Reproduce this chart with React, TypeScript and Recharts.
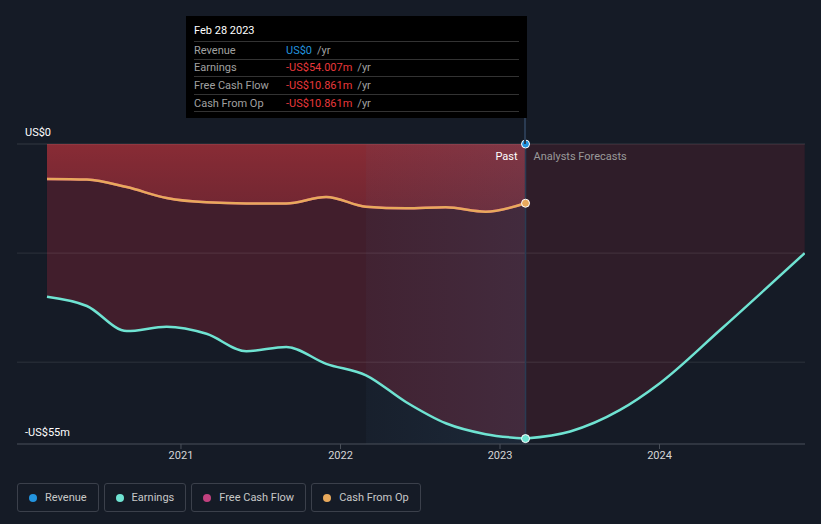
import React from 'react';
import {
  ComposedChart,
  Area,
  Line,
  XAxis,
  YAxis,
  ReferenceLine,
  ReferenceArea,
  ReferenceDot,
} from 'recharts';

// dates as decimal years
const pastDates = [2020.16, 2020.41, 2020.66, 2020.91, 2021.16, 2021.41, 2021.66, 2021.91, 2022.16, 2022.41, 2022.66, 2022.91, 2023.16];
const earningsPast = [-28.0, -29.7, -34.3, -33.5, -34.8, -38.0, -37.2, -40.3, -42.4, -47.3, -51.2, -53.2, -54.007];
const cashFromOpPast = [-6.4, -6.5, -7.9, -9.9, -10.7, -10.9, -10.9, -9.7, -11.5, -11.8, -11.6, -12.4, -10.861];
const freeCashFlowPast = [-6.4, -6.5, -7.9, -9.9, -10.7, -10.9, -10.9, -9.7, -11.5, -11.8, -11.6, -12.4, -10.861];
const forecastDates = [2023.16, 2023.44, 2023.75, 2024.0, 2024.38, 2024.91];
const earningsForecast = [-54.007, -52.7, -48.8, -43.9, -34.1, -20.0];

const yearTicks = [2021, 2022, 2023, 2024];
const gridValues = [-20, -40];
const lastDate = 2023.16;
const pastYearStart = 2022.16;

const tooltipRows = [
  { label: 'Revenue', value: 'US$0', color: '#2394df' },
  { label: 'Earnings', value: '-US$54.007m', color: '#e8383b' },
  { label: 'Free Cash Flow', value: '-US$10.861m', color: '#e8383b' },
  { label: 'Cash From Op', value: '-US$10.861m', color: '#e8383b' },
];

const legendItems = [
  { name: 'Revenue', color: '#2394df' },
  { name: 'Earnings', color: '#6fe3d2' },
  { name: 'Free Cash Flow', color: '#c2417f' },
  { name: 'Cash From Op', color: '#e8a95c' },
];

const rows: Array<Record<string, number>> = [];
pastDates.forEach((t, i) => {
  rows.push({ t, earnings: earningsPast[i], cfo: cashFromOpPast[i], fcf: freeCashFlowPast[i] });
});
forecastDates.forEach((t, i) => {
  const hit = rows.find((r) => r.t === t);
  if (hit) hit.earningsF = earningsForecast[i];
  else rows.push({ t, earningsF: earningsForecast[i] });
});

const FONT = 'Roboto, "Noto Sans", sans-serif';

export default function App() {
  return (
    <div style={{ position: 'absolute', left: 0, top: 0, width: 821, height: 524, background: '#151b26', fontFamily: FONT, overflow: 'hidden' }}>
      <ComposedChart width={821} height={474} data={rows} margin={{ top: 144, right: 16, bottom: 0, left: 17 }}>
        <defs>
          <linearGradient id="cfoFill" x1="0" y1="0" x2="0" y2="1">
            <stop offset="0%" stopColor="#e03c40" stopOpacity={0.75} />
            <stop offset="100%" stopColor="#d0383e" stopOpacity={0.55} />
          </linearGradient>
          <linearGradient id="pastYear" x1="0" y1="0" x2="1" y2="0">
            <stop offset="0%" stopColor="#4a7aa8" stopOpacity={0.1} />
            <stop offset="100%" stopColor="#4a7aa8" stopOpacity={0.28} />
          </linearGradient>
        </defs>
        <XAxis
          type="number"
          dataKey="t"
          domain={[2019.972, 2024.912]}
          allowDataOverflow
          ticks={yearTicks}
          tickFormatter={(v) => String(v)}
          height={30}
          stroke="#4a505a"
          tickSize={5}
          tick={{ fill: '#d6d6d6', fontSize: 11, fontFamily: FONT }}
        />
        <YAxis hide domain={[-55, 0]} allowDataOverflow />
        <Area
          type="monotone"
          dataKey="earnings"
          baseValue={0}
          stroke="none"
          fill="#a8283a"
          fillOpacity={0.3}
          isAnimationActive={false}
          connectNulls
        />
        <Area
          type="monotone"
          dataKey="earningsF"
          baseValue={0}
          stroke="none"
          fill="#a8283a"
          fillOpacity={0.18}
          isAnimationActive={false}
          connectNulls
        />
        <Area
          type="monotone"
          dataKey="cfo"
          baseValue={0}
          stroke="none"
          fill="url(#cfoFill)"
          isAnimationActive={false}
          connectNulls
        />
        {gridValues.map((v) => (
          <ReferenceLine key={v} y={v} stroke="#ffffff" strokeOpacity={0.1} />
        ))}
        <ReferenceLine
          y={0}
          stroke="#ffffff"
          strokeOpacity={0.13}
          label={(p: any) => (
            <text x={25} y={p.viewBox.y - 8} fill="#ffffff" fontSize={11} fontFamily={FONT}>
              US$0
            </text>
          )}
        />
        <ReferenceLine
          y={-55}
          stroke="none"
          label={(p: any) => (
            <text x={25} y={p.viewBox.y - 8} fill="#ffffff" fontSize={11} fontFamily={FONT}>
              -US$55m
            </text>
          )}
        />
        <Line type="monotone" dataKey="fcf" stroke="#c2417f" strokeWidth={2.5} dot={false} isAnimationActive={false} connectNulls />
        <Line type="monotone" dataKey="cfo" stroke="#e8a95c" strokeWidth={2.5} dot={false} isAnimationActive={false} connectNulls />
        <Line type="monotone" dataKey="earnings" stroke="#6fe3d2" strokeWidth={2.5} dot={false} isAnimationActive={false} connectNulls />
        <Line type="monotone" dataKey="earningsF" stroke="#6fe3d2" strokeWidth={2.5} dot={false} isAnimationActive={false} connectNulls />
        <ReferenceArea x1={pastYearStart} x2={lastDate} y1={-55} y2={0} fill="url(#pastYear)" stroke="none" />
        <ReferenceLine
          x={lastDate}
          stroke="#2a3b52"
          strokeWidth={1.5}
          label={(p: any) => (
            <g>
              <text x={p.viewBox.x - 8} y={160} textAnchor="end" fill="#ffffff" fontSize={11} fontFamily={FONT}>
                Past
              </text>
              <text x={p.viewBox.x + 8} y={160} fill="#9a9a9a" fontSize={11} fontFamily={FONT}>
                Analysts Forecasts
              </text>
            </g>
          )}
        />
        <ReferenceDot x={lastDate} y={0} r={4} fill="#2394df" stroke="#ffffff" strokeWidth={1} />
        <ReferenceDot x={lastDate} y={cashFromOpPast[cashFromOpPast.length - 1]} r={4} fill="#e8a95c" stroke="#ffffff" strokeWidth={1} />
        <ReferenceDot x={lastDate} y={earningsPast[earningsPast.length - 1]} r={4} fill="#6fe3d2" stroke="#ffffff" strokeWidth={1} />
      </ComposedChart>

      <div style={{ position: 'absolute', left: 524, top: 118, width: 1.5, height: 26, background: '#2a3b52' }} />

      <div style={{ position: 'absolute', left: 186, top: 16, width: 341, height: 102, background: '#000000', boxSizing: 'border-box', padding: '0 8px' }}>
        <div style={{ color: '#ffffff', fontSize: 11, height: 25, lineHeight: '30px' }}>Feb 28 2023</div>
        {tooltipRows.map((r) => (
          <div key={r.label} style={{ display: 'flex', height: 16.6, alignItems: 'center', borderTop: '1px solid #333', fontSize: 11 }}>
            <span style={{ width: 92, color: '#a0a0a0' }}>{r.label}</span>
            <span style={{ color: r.color }}>{r.value}</span>
            <span style={{ color: '#a0a0a0', marginLeft: 5 }}>/yr</span>
          </div>
        ))}
        <div style={{ borderTop: '1px solid #333' }} />
      </div>

      <div style={{ position: 'absolute', left: 17, top: 483, display: 'flex', gap: 5 }}>
        {legendItems.map((it) => (
          <div
            key={it.name}
            style={{
              display: 'flex',
              alignItems: 'center',
              height: 29,
              boxSizing: 'border-box',
              border: '1px solid #3b404b',
              borderRadius: 3,
              padding: '0 11px 0 11px',
              color: '#c8c8c8',
              fontSize: 11,
            }}
          >
            <span style={{ width: 8, height: 8, borderRadius: '50%', background: it.color, marginRight: 8 }} />
            {it.name}
          </div>
        ))}
      </div>
    </div>
  );
}
